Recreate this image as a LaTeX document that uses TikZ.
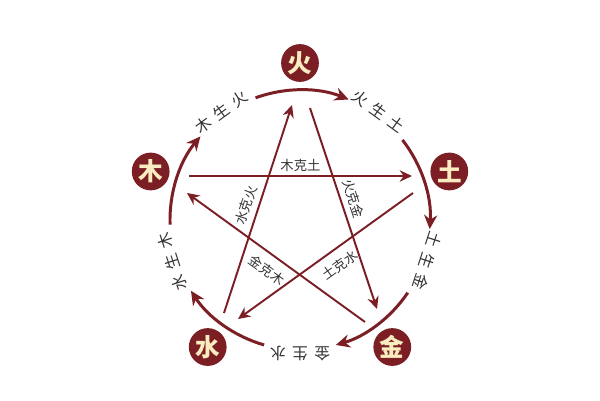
\documentclass[tikz,border=0pt]{standalone}
\usepackage{fontspec}
\newfontfamily\cjk{Noto Sans CJK SC}
\newfontfamily\cjkwide[LetterSpace=40]{Noto Sans CJK SC}
\usepackage{xcolor}
\definecolor{wxred}{HTML}{7B1F24}
\definecolor{wxcream}{HTML}{F9ECC0}
\usetikzlibrary{arrows.meta}

\begin{document}
\begin{tikzpicture}[x=0.02cm, y=0.02cm,
  element/.style={circle, fill=wxred, minimum size=21.5pt, inner sep=0pt, text=wxcream, font=\cjk\bfseries\fontsize{14pt}{14pt}\selectfont},
  ring/.style={draw=wxred, line width=1.7pt, -{Stealth[length=8pt, width=7.5pt]}},
  ke/.style={draw=wxred, line width=1.1pt, -{Stealth[length=7pt, width=6.5pt]}},
  shenglabel/.style={text=black!80, inner sep=0pt, font=\cjkwide\fontsize{9pt}{9pt}\selectfont},
  kelabel/.style={text=black!80, inner sep=2pt, font=\cjk\fontsize{7.6pt}{7.6pt}\selectfont}]

  \useasboundingbox (-300,-180) rectangle (300,220);

  % The five elements
  \node[element] (huo) at (90:157) {火};
  \node[element] (tu) at (18:157) {土};
  \node[element] (jin) at (-54:157) {金};
  \node[element] (shui) at (-126:157) {水};
  \node[element] (mu) at (162:157) {木};

  % Generating cycle (outer ring)
  \draw[ring] (110:130) arc[start angle=110, end angle=68, radius=130];
  \draw[ring] (38:130) arc[start angle=38, end angle=-4, radius=130];
  \draw[ring] (-34:130) arc[start angle=-34, end angle=-74, radius=130];
  \draw[ring] (-106:130) arc[start angle=-106, end angle=-147, radius=130];
  \draw[ring] (182:130) arc[start angle=182, end angle=140, radius=130];

  \node[shenglabel, rotate=36] (mu-huo) at (126:134) {木生火};
  \node[shenglabel, rotate=-36] (huo-tu) at (54:134) {火生土};
  \node[shenglabel, rotate=-108] (tu-jin) at (-18:134) {土生金};
  \node[shenglabel, rotate=-180] (jin-shui) at (-90:134) {金生水};
  \node[shenglabel, rotate=108] (shui-mu) at (198:134) {水生木};

  % Ends of the star lines
  \coordinate (huo-in) at (-8,115);
  \coordinate (huo-out) at (10,112);
  \coordinate (mu-out) at (-111,44);
  \coordinate (mu-in) at (-113,27);
  \coordinate (tu-in) at (112,44);
  \coordinate (tu-out) at (113,27);
  \coordinate (shui-out) at (-76,-93);
  \coordinate (shui-in) at (-62,-99);
  \coordinate (jin-in) at (77,-89);
  \coordinate (jin-out) at (65,-102);

  % Controlling cycle (star)
  \draw[ke] (mu-out) -- node[kelabel, above] {木克土} (tu-in);
  \draw[ke] (huo-out) -- node[kelabel, sloped, above=1pt, pos=0.47] {火克金} (jin-in);
  \draw[ke] (tu-out) -- node[kelabel, sloped, below=3pt, pos=0.47] {土克水} (shui-in);
  \draw[ke] (jin-out) -- node[kelabel, sloped, below=3pt, pos=0.5] {金克木} (mu-in);
  \draw[ke] (shui-out) -- node[kelabel, sloped, above=1pt, pos=0.5] {水克火} (huo-in);

\end{tikzpicture}
\end{document}
